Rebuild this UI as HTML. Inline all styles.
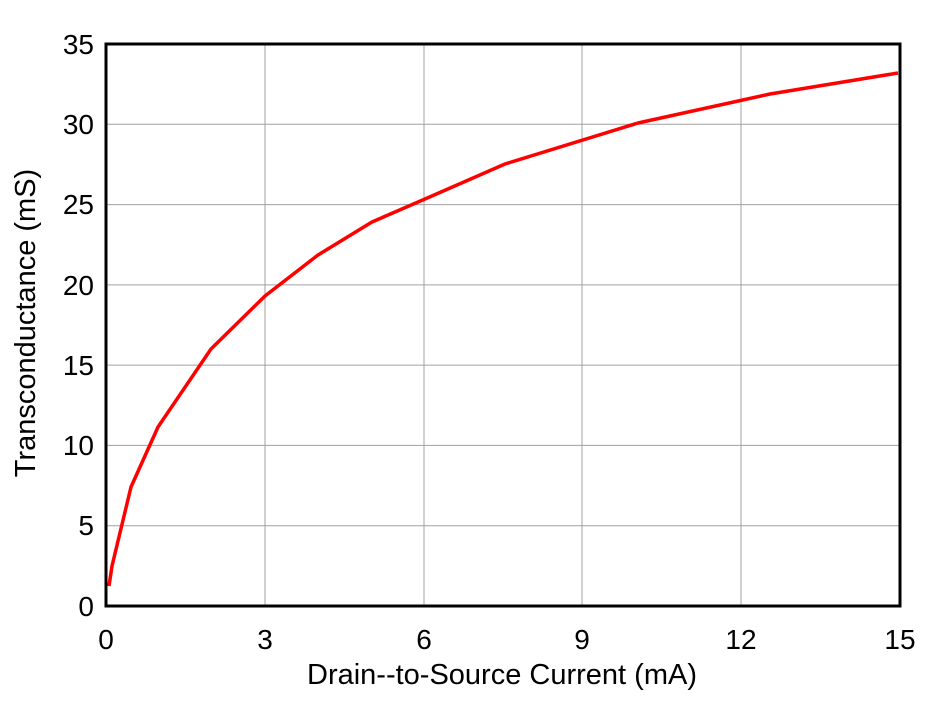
<!DOCTYPE html>
<html><head><style>
body{margin:0;background:#fff;}
svg text{font-family:"Liberation Sans",Arial,sans-serif;fill:#000;}
</style></head><body>
<svg width="940" height="701" viewBox="0 0 940 701" xmlns="http://www.w3.org/2000/svg">
<rect width="940" height="701" fill="#fff"/>
<g stroke="#a0a0a0" stroke-width="1">
<line x1="265" y1="44" x2="265" y2="606"/>
<line x1="424" y1="44" x2="424" y2="606"/>
<line x1="582" y1="44" x2="582" y2="606"/>
<line x1="741" y1="44" x2="741" y2="606"/>
<line x1="106" y1="124.3" x2="900" y2="124.3"/>
<line x1="106" y1="204.6" x2="900" y2="204.6"/>
<line x1="106" y1="284.9" x2="900" y2="284.9"/>
<line x1="106" y1="365.1" x2="900" y2="365.1"/>
<line x1="106" y1="445.4" x2="900" y2="445.4"/>
<line x1="106" y1="525.7" x2="900" y2="525.7"/>
</g>
<polyline fill="none" stroke="#f00" stroke-width="3.5" stroke-linejoin="round" points="109,586 112,566 131,487 158,427 211,349 265,296 318,255 372,222 425,199 505,164 638,123 770,94 898,73"/>
<rect x="106" y="44" width="794" height="562" fill="none" stroke="#000" stroke-width="3"/>
<g font-size="28" text-anchor="end">
<text x="94" y="54">35</text>
<text x="94" y="134">30</text>
<text x="94" y="214">25</text>
<text x="94" y="295">20</text>
<text x="94" y="375">15</text>
<text x="94" y="455">10</text>
<text x="94" y="535">5</text>
<text x="94" y="616">0</text>
</g>
<g font-size="28" text-anchor="middle">
<text x="106" y="649">0</text>
<text x="265" y="649">3</text>
<text x="424" y="649">6</text>
<text x="582" y="649">9</text>
<text x="741" y="649">12</text>
<text x="900" y="649">15</text>
</g>
<g font-size="29" text-anchor="middle">
<text x="502" y="684">Drain--to-Source Current (mA)</text>
<text transform="translate(35,323) rotate(-90)">Transconductance (mS)</text>
</g>
</svg>
</body></html>
